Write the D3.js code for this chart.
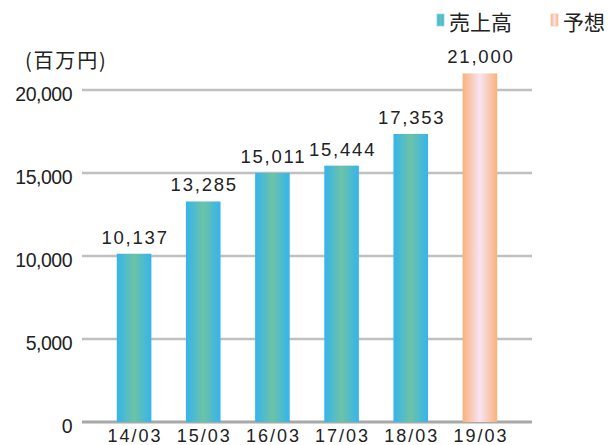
<!DOCTYPE html>
<html><head><meta charset="utf-8">
<script src="https://cdn.jsdelivr.net/npm/d3@7"></script>
<style>
body{margin:0;background:#fff;}
text{font-family:"Liberation Sans","DejaVu Sans",sans-serif;fill:#222;}
.cjk{font-family:"Noto Sans CJK JP",sans-serif;}
</style></head><body>
<svg id="c" width="610" height="445"></svg>
<script>
const categories = ["14/03","15/03","16/03","17/03","18/03","19/03"];
const values = [10137,13285,15011,15444,17353,21000];
const isForecast = [false,false,false,false,false,true];
const yTicks = [0,5000,10000,15000,20000];
const legendLabels = ["売上高","予想"];
const unitLabel = "(百万円)";

const svg = d3.select("#c");
const x = d3.scaleBand().domain(categories).range([99.5,514.5]).paddingInner(0.5).paddingOuter(0.25);
const y = d3.scaleLinear().domain([0,20000]).range([422,90]);

const defs = svg.append("defs");
function grad(id, edge, mid){
  const g = defs.append("linearGradient").attr("id",id).attr("x1","0").attr("x2","1").attr("y1","0").attr("y2","0");
  g.append("stop").attr("offset","0").attr("stop-color",edge);
  g.append("stop").attr("offset","0.5").attr("stop-color",mid);
  g.append("stop").attr("offset","1").attr("stop-color",edge);
}
grad("gBlue","#35b4ee","#6cc3a6");
grad("gOrange","#f8b27c","#f8e4f2");

// gridlines
svg.append("g").selectAll("line").data(yTicks).join("line")
  .attr("x1",82).attr("x2",532)
  .attr("y1",d=>y(d)).attr("y2",d=>y(d))
  .attr("stroke",d=>d===0?"#a8a8a8":"#c0c0c0").attr("stroke-width",d=>d===0?3:2.5);

// y tick labels
svg.append("g").selectAll("text").data(yTicks).join("text")
  .attr("x",72).attr("y",d=>y(d)+11)
  .attr("text-anchor","end").attr("font-size",19.5).attr("letter-spacing","-0.5")
  .text(d=>d3.format(",")(d));

// bars
svg.append("g").selectAll("rect").data(values).join("rect")
  .attr("x",(d,i)=>x(categories[i])).attr("width",x.bandwidth())
  .attr("y",d=>y(d)).attr("height",d=>y(0)-y(d))
  .attr("fill",(d,i)=>isForecast[i]?"url(#gOrange)":"url(#gBlue)");

// value labels
svg.append("g").selectAll("text").data(values).join("text")
  .attr("x",(d,i)=>x(categories[i])+x.bandwidth()/2+1)
  .attr("y",d=>y(d)-10)
  .attr("text-anchor","middle").attr("font-size",18.5).attr("letter-spacing","1.8").attr("fill","#2a2a2a")
  .text(d=>d3.format(",")(d));

// x labels
svg.append("g").selectAll("text").data(categories).join("text")
  .attr("x",d=>x(d)+x.bandwidth()/2+1).attr("y",442)
  .attr("text-anchor","middle").attr("font-size",18).attr("letter-spacing","2")
  .text(d=>d);

// unit label
svg.append("text").attr("class","cjk").attr("x",25).attr("y",68).attr("font-size",20)
  .attr("letter-spacing","1.8").attr("fill","#444").text(unitLabel);

// legend
const legX = [437,551];
const lg = svg.append("g");
legendLabels.forEach((t,i)=>{
  lg.append("rect").attr("x",legX[i]).attr("y",14).attr("width",7).attr("height",12)
    .attr("fill",i===0?"url(#gBlue)":"url(#gOrange)").attr("stroke",i===0?"#8fd3f0":"#f7c8a0").attr("stroke-width",0.8);
  lg.append("text").attr("class","cjk").attr("x",legX[i]+12).attr("y",30).attr("font-size",21).text(t);
});
</script>
</body></html>
